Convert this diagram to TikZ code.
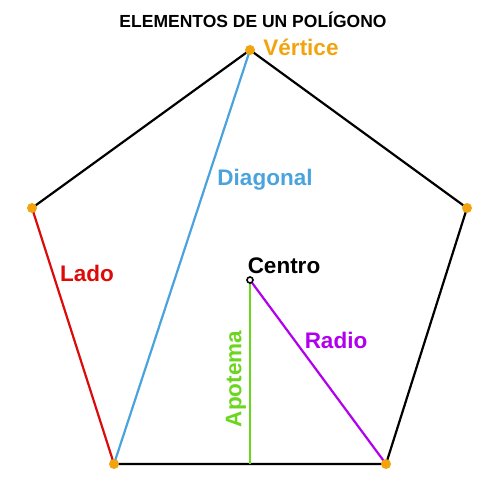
\documentclass[tikz,border=0pt]{standalone}
\usepackage{fontspec}
\setmainfont{Liberation Sans}
\usepackage{tikz}
\definecolor{vertcol}{HTML}{F2A40E}
\definecolor{diagcol}{HTML}{4BA3DD}
\definecolor{ladocol}{HTML}{DD0A0A}
\definecolor{apocol}{HTML}{6AD61E}
\definecolor{radcol}{HTML}{B000EE}
\tikzset{
	vert/.style={circle, fill=vertcol, inner sep=0pt, minimum size=10pt},
	lbl/.style={font=\fontsize{22.5}{26}\selectfont\bfseries, inner sep=0pt},
	side/.style={line width=2.2pt}
}

\begin{document}
\begin{tikzpicture}[x=1pt, y=-1pt]
	\useasboundingbox (0,0) rectangle (500,494);
	\node [font=\fontsize{17.5}{20}\selectfont\bfseries] (title) at (253,20) {ELEMENTOS DE UN POLÍGONO};
	\coordinate (top) at (250,50);
	\coordinate (left) at (32,208);
	\coordinate (right) at (467,208);
	\coordinate (bl) at (114,464);
	\coordinate (br) at (386,464);
	\coordinate (c) at (250,280);
	\coordinate (foot) at (250,464);
	\draw[side] (top) -- (right) -- (br) -- (bl);
	\draw[side] (left) -- (top);
	\draw[side, color=ladocol] (left) -- (bl);
	\draw[side, color=diagcol] (top) -- (bl);
	\draw[side, color=apocol] (c) -- (foot);
	\draw[side, color=radcol] (c) -- (br);
	\foreach \p in {top, left, right, bl, br}
		\node [vert] at (\p) {};
	\node [circle, draw, fill=white, line width=1.6pt, inner sep=0pt, minimum size=6pt] (cdot) at (c) {};
	\node [lbl, color=vertcol] (vlab) at (301,47) {Vértice};
	\node [lbl, color=diagcol] (dlab) at (265,180) {Diagonal};
	\node [lbl, color=ladocol] (llab) at (87,273) {Lado};
	\node [lbl] (clab) at (284,266) {Centro};
	\node [lbl, color=radcol] (rlab) at (336,340) {Radio};
	\node [lbl, color=apocol, rotate=90] (alab) at (236,379) {Apotema};
\end{tikzpicture}
\end{document}
